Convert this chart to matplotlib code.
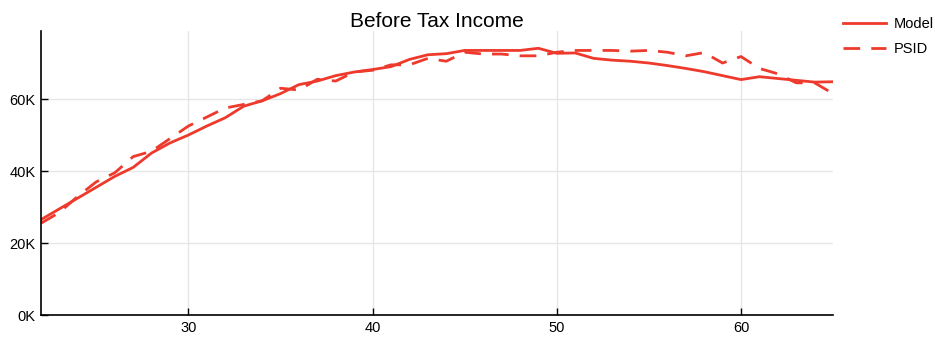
import matplotlib
matplotlib.use("Agg")
import matplotlib.pyplot as plt
from matplotlib.ticker import FuncFormatter

# data (income in thousands)
ages = list(range(22, 66))
model = [26.5, 29.5, 32.5, 35.5, 38.5, 41.0, 45.0, 47.8, 50.0, 52.5,
         54.8, 58.0, 59.5, 61.5, 64.0, 65.0, 66.5, 67.5, 68.2, 69.0,
         71.0, 72.3, 72.6, 73.5, 73.5, 73.5, 73.5, 74.1, 72.7, 72.8,
         71.3, 70.8, 70.5, 70.0, 69.3, 68.5, 67.6, 66.5, 65.4, 66.2,
         65.7, 65.2, 64.7, 64.8]
psid = [25.5, 28.5, 33.0, 37.0, 39.5, 44.0, 45.5, 49.0, 52.5, 55.0,
        57.5, 58.5, 59.5, 63.0, 62.5, 65.5, 65.0, 67.5, 68.0, 69.5,
        69.5, 71.3, 70.5, 73.0, 72.5, 72.5, 72.0, 72.0, 73.0, 73.5,
        73.5, 73.5, 73.3, 73.5, 73.0, 72.0, 72.9, 70.0, 71.8, 68.5,
        67.0, 64.5, 64.5, 61.5]
yticks = [0, 20, 40, 60]
xticks = [30, 40, 50, 60]

plt.rcParams['font.family'] = ['Liberation Sans', 'DejaVu Sans']

red = '#ee3a2c'

fig = plt.figure(figsize=(9.35, 3.41), dpi=100)
ax = fig.add_axes([0.0439, 0.0762, 0.8471, 0.8329])

ax.plot(ages, model, color=red, lw=2, label='Model')
ax.plot(ages, psid, color=red, lw=2, ls=(0, (6, 4)), label='PSID')

ax.set_xlim(22, 65)
ax.set_ylim(0, 78.9)
ax.set_xticks(xticks)
ax.set_yticks(yticks)
ax.yaxis.set_major_formatter(FuncFormatter(lambda v, p: f"{int(v)}K"))
ax.grid(True, color='#e6e6e6', lw=1)
ax.set_axisbelow(True)
for s in ['top', 'right']:
    ax.spines[s].set_visible(False)
for s in ['left', 'bottom']:
    ax.spines[s].set_linewidth(1.2)
ax.tick_params(direction='in', length=5, width=1, labelsize=10.5, pad=4)

ax.set_title('Before Tax Income', fontsize=15, pad=3)

leg = ax.legend(loc='upper left', bbox_to_anchor=(1.0, 1.085), frameon=False,
                fontsize=10.5, handlelength=2.9, handletextpad=0.55,
                labelspacing=0.75, borderaxespad=0.3)

fig.savefig('out.png', dpi=100)
